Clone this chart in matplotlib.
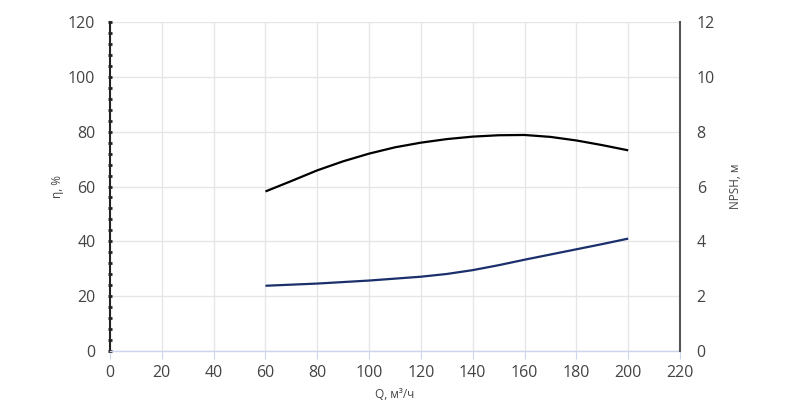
import matplotlib
matplotlib.use("Agg")
import matplotlib.pyplot as plt
from matplotlib.ticker import MultipleLocator

plt.rcParams['font.family'] = ['Open Sans', 'DejaVu Sans']

# Data
q_eff = [60, 70, 80, 90, 100, 110, 120, 130, 140, 150, 160, 170, 180, 190, 200]
eff = [58.2, 62.0, 65.9, 69.2, 72.0, 74.3, 76.0, 77.3, 78.2, 78.7, 78.8, 78.1, 76.8, 75.1, 73.2]

q_npsh = [60, 80, 100, 120, 130, 140, 150, 160, 170, 180, 190, 200]
npsh = [2.38, 2.46, 2.57, 2.71, 2.81, 2.95, 3.13, 3.33, 3.52, 3.71, 3.90, 4.10]

x_ticks = list(range(0, 221, 20))
y_left_ticks = list(range(0, 121, 20))
y_right_ticks = list(range(0, 13, 2))

fig = plt.figure(figsize=(8.0, 4.08), dpi=100)
ax = fig.add_axes([0.1375, 0.1397, 0.7125, 0.8063])
ax2 = ax.twinx()

ax.set_xlim(0, 220)
ax.set_ylim(0, 120)
ax2.set_ylim(0, 12)

ax.set_xticks(x_ticks)
ax.set_yticks(y_left_ticks)
ax2.set_yticks(y_right_ticks)
ax.yaxis.set_minor_locator(MultipleLocator(4))

ax.grid(True, which='major', color='#e6e6e6', linewidth=1)
ax.set_axisbelow(True)

ax.spines['top'].set_visible(False)
ax2.spines['top'].set_visible(False)
ax.spines['right'].set_visible(False)
ax2.spines['left'].set_visible(False)
ax2.spines['bottom'].set_visible(False)
ax.spines['bottom'].set_color('#ccd6eb')
ax.spines['bottom'].set_linewidth(1)
ax.spines['left'].set_color('#222222')
ax.spines['left'].set_linewidth(1.5)
ax2.spines['right'].set_color('#555555')
ax2.spines['right'].set_linewidth(1.5)

label_color = '#444444'
ax.tick_params(axis='x', which='major', length=6, color='#ccd6eb', labelsize=11.5,
               labelcolor=label_color, pad=4)
ax.tick_params(axis='y', which='major', length=3, width=2, color='#222222',
               direction='inout', labelsize=11.5, labelcolor=label_color, pad=9)
ax.tick_params(axis='y', which='minor', length=3, width=2, color='#222222', direction='inout')
ax2.tick_params(axis='y', length=0, labelsize=11.5, labelcolor=label_color, pad=12)

ax.plot(q_eff, eff, color='#000000', linewidth=1.6, solid_capstyle='butt')
ax2.plot(q_npsh, npsh, color='#1a2f6b', linewidth=1.6, solid_capstyle='butt')

ax.set_xlabel('Q, м³/ч', fontsize=8.5, color=label_color, labelpad=5)
ax.set_ylabel('η, %', fontsize=8.5, color=label_color, labelpad=3)
ax2.set_ylabel('NPSH, м', fontsize=8.5, color=label_color, labelpad=10)

fig.savefig('out.png', dpi=100)
